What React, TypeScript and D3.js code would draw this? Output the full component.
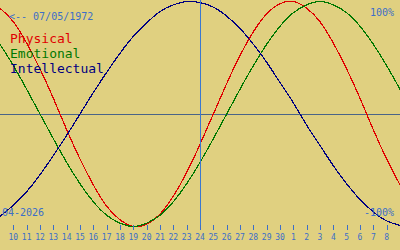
import React from "react";
import * as d3 from "d3";

const dayLabels = ["10","11","12","13","14","15","16","17","18","19","20","21","22","23","24","25","26","27","28","29","30","1","2","3","4","5","6","7","8"];
const dayOffsets = [-15,-14,-13,-12,-11,-10,-9,-8,-7,-6,-5,-4,-3,-2,-1,0,1,2,3,4,5,6,7,8,9,10,11,12,13,14,15];
const physical = [0.94,0.82,0.63,0.40,0.14,-0.14,-0.40,-0.63,-0.82,-0.94,-1.00,-0.98,-0.89,-0.73,-0.52,-0.27,0,0.27,0.52,0.73,0.89,0.98,1.00,0.94,0.82,0.63,0.40,0.14,-0.14,-0.40,-0.63];
const emotional = [0.62,0.43,0.22,0,-0.22,-0.43,-0.62,-0.78,-0.90,-0.97,-1,-0.97,-0.90,-0.78,-0.62,-0.43,-0.22,0,0.22,0.43,0.62,0.78,0.90,0.97,1,0.97,0.90,0.78,0.62,0.43,0.22];
const intellectual = [-0.91,-0.81,-0.69,-0.54,-0.37,-0.19,0,0.19,0.37,0.54,0.69,0.81,0.91,0.97,1.00,0.99,0.95,0.87,0.76,0.62,0.46,0.28,0.10,-0.10,-0.28,-0.46,-0.62,-0.76,-0.87,-0.95,-0.99];
const seriesNames = ["Physical", "Emotional", "Intellectual"];
const birthLabel = "<-- 07/05/1972";
const monthLabel = "04-2026";

const W = 400, H = 250;
const BG = "#e0d080";
const TXT = "#3c6ec8";
const COLORS = ["#e00000", "#007800", "#000080"];
const MONO = "'DejaVu Sans Mono', monospace";

export default function App() {
  const x = d3.scaleLinear().domain([-15, 15]).range([0, W]);
  const y = d3.scaleLinear().domain([-1, 1]).range([226.5, 1.5]);
  const line = d3.line<number>()
    .x((_, i) => x(dayOffsets[i]))
    .y((d) => y(d))
    .curve(d3.curveNatural);
  const series = [physical, emotional, intellectual];
  const tickOffsets = dayLabels.map((_, i) => i - 14);
  return (
    <svg width={W} height={H} style={{ position: "fixed", left: 0, top: 0, display: "block" }}>
      <rect x={0} y={0} width={W} height={H} fill={BG} />
      <line x1={0} x2={W} y1={y(0) + 0.5} y2={y(0) + 0.5} stroke="#4a6488" strokeWidth={1} />
      {series.map((s, k) => (
        <path key={k} d={line(s) || ""} fill="none" stroke={COLORS[k]} strokeWidth={1.2} shapeRendering="crispEdges" />
      ))}
      <line x1={x(0) + 0.5} x2={x(0) + 0.5} y1={0} y2={230} stroke="#3a78d0" strokeWidth={1} />
      {tickOffsets.map((o, i) => (
        <g key={i}>
          <line x1={Math.round(x(o)) + 0.5} x2={Math.round(x(o)) + 0.5} y1={225} y2={230} stroke={TXT} strokeWidth={1} />
          <text x={x(o)} y={240} textAnchor="middle" fontFamily={MONO} fontSize={8} fill={TXT}>{dayLabels[i]}</text>
        </g>
      ))}
      <text x={9} y={20} fontFamily={MONO} fontSize={10} fill={TXT}>{birthLabel}</text>
      {seriesNames.map((n, k) => (
        <text key={n} x={10} y={43 + k * 15} fontFamily={MONO} fontSize={13} fill={COLORS[k]}>{n}</text>
      ))}
      <text x={394} y={16} textAnchor="end" fontFamily={MONO} fontSize={10} fill={TXT}>100%</text>
      <text x={394} y={216} textAnchor="end" fontFamily={MONO} fontSize={10} fill={TXT}>-100%</text>
      <text x={2} y={216} fontFamily={MONO} fontSize={10} fill={TXT}>{monthLabel}</text>
    </svg>
  );
}
